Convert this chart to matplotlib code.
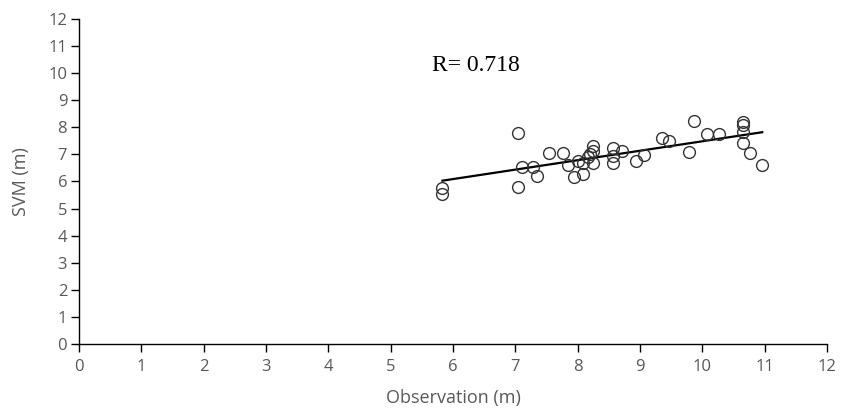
import matplotlib
matplotlib.use("Agg")
import matplotlib.pyplot as plt
import numpy as np

# valores
obs = [5.83, 5.83, 7.04, 7.04, 7.10, 7.29, 7.34, 7.54, 7.76, 7.84,
       7.94, 8.08, 8.08, 8.17, 8.25, 8.25, 8.25, 8.56, 8.56, 8.56,
       8.71, 8.94, 9.06, 9.36, 9.47, 9.78, 9.86, 10.07, 10.27, 10.65,
       10.65, 10.65, 10.65, 10.77, 10.96, 8.00, 8.20]
svm = [5.75, 5.53, 7.78, 5.79, 6.52, 6.55, 6.22, 7.07, 7.04, 6.61,
       6.16, 6.28, 6.70, 6.89, 7.32, 7.14, 6.67, 7.22, 6.94, 6.70,
       7.14, 6.76, 6.98, 7.62, 7.51, 7.10, 8.23, 7.74, 7.74, 8.21,
       8.09, 7.82, 7.43, 7.07, 6.61, 6.75, 7.00]

# linha de tendência (extremos lidos)
trend_x = [5.83, 10.96]
trend_y = [6.03, 7.82]

r_text = "R= 0.718"
ticks = list(range(0, 13))

cinza = "#595959"
fonte = ["Open Sans", "DejaVu Sans"]

fig = plt.figure(figsize=(8.44, 4.08), dpi=100)
ax = fig.add_axes([0.0936, 0.1569, 0.8863, 0.7965])

ax.plot(obs, svm, "o", mfc="none", mec="#333333", mew=1.0, ms=8.5, zorder=3)
ax.plot(trend_x, trend_y, color="black", lw=1.6, zorder=2)

ax.text(5.66, 10.27, r_text, family="Liberation Serif", fontsize=17,
        ha="left", va="center", color="black")

ax.set_xlim(0, 12)
ax.set_ylim(0, 12)
ax.set_xticks(ticks)
ax.set_yticks(ticks)
for s in ["top", "right"]:
    ax.spines[s].set_visible(False)
for s in ["left", "bottom"]:
    ax.spines[s].set_linewidth(1.0)
    ax.spines[s].set_color("black")
ax.tick_params(direction="out", length=6, width=1.0, color="black",
               labelcolor=cinza, labelsize=12)
ax.tick_params(axis="y", pad=2.5)
ax.tick_params(axis="x", pad=5)
for lab in ax.get_xticklabels() + ax.get_yticklabels():
    lab.set_family(fonte)

ax.set_xlabel("Observation (m)", family=fonte, fontsize=13, color=cinza, labelpad=10)
ax.set_ylabel("SVM (m)", family=fonte, fontsize=13, color=cinza, labelpad=13)

fig.savefig("out.png", dpi=100)
